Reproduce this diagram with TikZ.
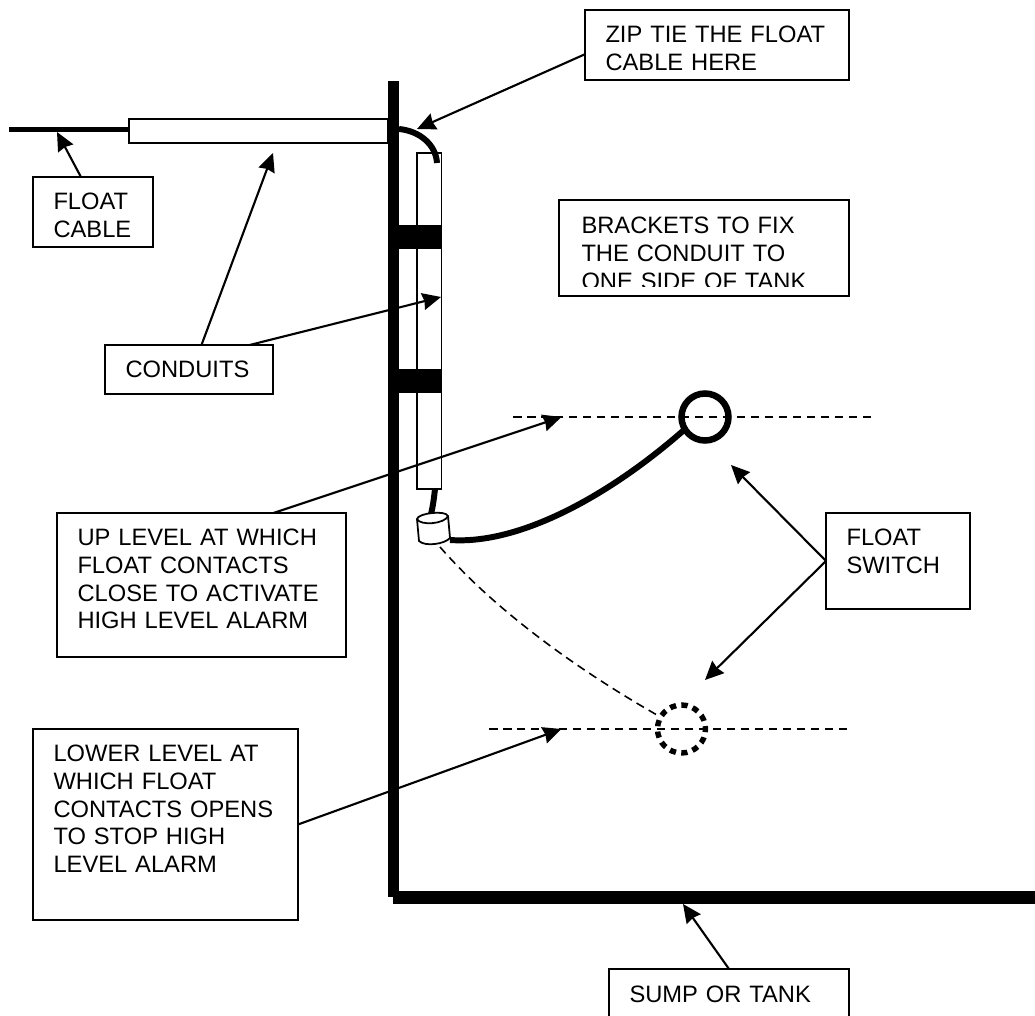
\documentclass[tikz,border=0pt]{standalone}
\usepackage{fontspec}
\setmainfont{Liberation Sans}
\usetikzlibrary{arrows.meta, positioning}
\tikzset{
  labeltext/.style={
    anchor=north west, inner sep=0pt, outer sep=0pt, align=left,
    text width=#1*0.02cm, text height=0.34cm,
    font=\fontsize{13.5pt}{15.7pt}\selectfont
  },
  labelbox/.style 2 args={
    rectangle, draw, fill=white, line width=1pt, anchor=north west,
    outer sep=0pt, inner xsep=0.41cm, inner ysep=0.32cm, align=left,
    text width=(#1-41)*0.02cm, minimum width=#1*0.02cm,
    minimum height=#2*0.02cm, text height=0.34cm,
    text depth=(#2-49)*0.02cm,
    font=\fontsize{13.5pt}{15.7pt}\selectfont
  },
  arrow/.style={-{Stealth[length=3.7mm, width=3.4mm, inset=0.3mm]}, line width=1.2pt},
  thinline/.style={draw, line width=1pt},
  cable/.style={line width=3.4pt},
  levelline/.style={line width=0.9pt, dash pattern=on 0.17cm off 0.11cm}
}
\begin{document}
\begin{tikzpicture}[x=0.02cm, y=-0.02cm]
  \useasboundingbox (0,0) rectangle (1035,1016);
  % Conduits
  \draw[thinline] (129,119) rectangle (388,143);
  \draw[thinline] (417,153) rectangle (441.5,489);
  \draw[cable] (9,129.5) -- (129,129.5);
  % Brackets
  \fill (399,225) rectangle (442,249.5);
  \fill (399,369) rectangle (442,393.5);
  % Tank
  \fill (387.5,81) rectangle (399,897);
  \fill (393,891) rectangle (1035,904);
  % Cable in conduit
  \draw[cable] (399,129) .. controls (420,131) and (436,145) .. (437,163);
  \draw[cable] (435,489) .. controls (434,498) and (433,506) .. (431,514);
  % Levels
  \draw[levelline] (513,417) -- (872,417);
  \draw[levelline] (489,729) -- (848,729);
  % Float up
  \draw[cable] (450,540) .. controls (520,545) and (610,495) .. (684,430);
  \draw[line width=3.7pt] (705,417) circle (23.5);
  % Float down
  \draw[levelline] (440,547) .. controls (495,610) and (575,668) .. (657,715);
  \draw[line width=3.1pt, dash pattern=on 0.125cm off 0.107cm, dash phase=0.0625cm]
    (681.5,729) circle (24);
  % Float body
  \draw[line width=1pt, fill=white] (417,519)
    .. controls (418,513) and (446,510) .. (448,516)
    -- (450,538) .. controls (445,544) and (425,547) .. (419,541) -- cycle;
  \draw[line width=1pt] (417,519) .. controls (420,526) and (445,524) .. (448,516);
  % Labels
  \node[labelbox={264}{70}] (zipbox) at (585,10)
    {ZIP TIE THE FLOAT\\CABLE HERE};
  \node[labelbox={120}{70}] (cablebox) at (33,177)
    {FLOAT\\CABLE};
  \node[labelbox={290}{96}] (bracketbox) at (559,200) {};
  \begin{scope}
    \clip (559,200) rectangle (849,287);
    \node[labeltext=250] (brackettext) at (581.5,217)
      {BRACKETS TO FIX\\THE CONDUIT TO\\ONE SIDE OF TANK};
  \end{scope}
  \node[labelbox={168}{48}] (conduitbox) at (105,345)
    {CONDUITS};
  \node[labelbox={289}{144}] (upbox) at (57,513)
    {UP LEVEL AT WHICH\\FLOAT CONTACTS\\CLOSE TO ACTIVATE\\HIGH LEVEL ALARM};
  \node[labelbox={144}{96}] (switchbox) at (826,513)
    {FLOAT\\SWITCH};
  \node[labelbox={265}{191}] (lowerbox) at (33,729)
    {LOWER LEVEL AT\\WHICH FLOAT\\CONTACTS OPENS\\TO STOP HIGH\\LEVEL ALARM};
  \node[labelbox={240}{61}] (sumpbox) at (609,969)
    {SUMP OR TANK};
  % Arrow ends
  \coordinate (ziptip) at (417,129);
  \coordinate (cabletip) at (57,132);
  \coordinate (hconduittip) at (273,153);
  \coordinate (vconduittip) at (441,297);
  \coordinate (uptip) at (561.5,417);
  \coordinate (lowertip) at (561.5,729);
  \coordinate (floatuptip) at (731,465);
  \coordinate (floatdowntip) at (705,680);
  \coordinate (tanktip) at (683,904);
  % Arrows
  \draw[arrow] (zipbox.184) -- (ziptip);
  \draw[arrow] (cablebox.109) -- (cabletip);
  \draw[arrow] (conduitbox.63) -- (hconduittip);
  \draw[arrow] (conduitbox.22) -- (vconduittip);
  \draw[arrow] (upbox.45) -- (uptip);
  \draw[arrow] (lowerbox.east) -- (lowertip);
  \draw[arrow] (switchbox.west) -- (floatuptip);
  \draw[arrow] (switchbox.west) -- (floatdowntip);
  \draw[arrow] (sumpbox.north) -- (tanktip);
\end{tikzpicture}
\end{document}
